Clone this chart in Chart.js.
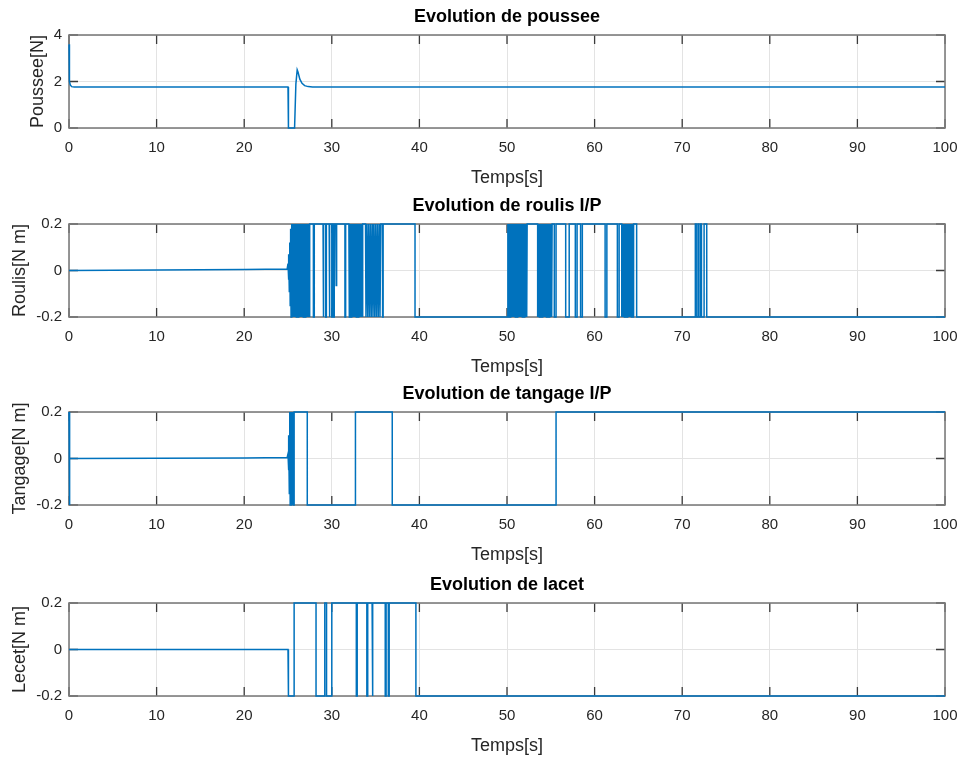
<!DOCTYPE html>
<html>
<head>
<meta charset="utf-8">
<title>Evolution des commandes</title>
<script src="https://cdn.jsdelivr.net/npm/chart.js@4.4.1/dist/chart.umd.min.js"></script>
<style>
    body { margin: 0; background: #ffffff; }
    #wrap { position: relative; width: 961px; height: 760px; }
    canvas { position: absolute; left: 0; }
</style>
</head>
<body>
<div id="wrap">
    <canvas id="pousseeChart" width="961" height="190" style="top:0px"></canvas>
    <canvas id="roulisChart" width="961" height="190" style="top:189px"></canvas>
    <canvas id="tangageChart" width="961" height="190" style="top:377px"></canvas>
    <canvas id="lacetChart" width="961" height="190" style="top:568px"></canvas>
</div>
<script>
// Tick values shared by the subplots
const timeTicks = [0, 10, 20, 30, 40, 50, 60, 70, 80, 90, 100];
const pousseeTicks = [0, 2, 4];
const momentTicks = [-0.2, 0, 0.2];

// Poussee [N]
const pousseeT = [0, 0.05, 0.15, 0.3, 0.6, 25.0, 25.05, 25.75, 25.9, 26.05, 26.15, 26.35, 26.6, 26.9, 27.3, 27.8, 100];
const pousseeY = [3.6, 2.0, 1.85, 1.78, 1.76, 1.76, 0, 0, 1.9, 2.5, 2.4, 2.1, 1.92, 1.82, 1.78, 1.76, 1.76];

// Roulis I/P [N m] (saturated at +/-0.2 once the chattering starts)
const roulisT = [
    0, 5, 10, 15, 20, 24.9,
    25.0, 25.05, 25.1, 25.15, 25.2, 25.25, 25.3, 25.35,
    25.4, 25.45, 25.5, 25.55, 25.6, 25.65, 25.7, 25.75, 25.8, 25.85,
    25.9, 25.95, 26.0, 26.05, 26.1, 26.15, 26.2, 26.25, 26.3, 26.35,
    26.4, 26.45, 26.5, 26.55, 26.6, 26.65, 26.7, 26.75, 26.8, 26.85,
    26.9, 26.95, 27.0, 27.05, 27.1, 27.15, 27.2, 27.25, 27.3, 27.35,
    27.4, 27.45, 27.5,
    27.9, 27.9, 28.0, 28.0,
    29.0, 29.0, 29.08, 29.08, 29.3, 29.3, 29.38, 29.38,
    29.7, 29.7, 29.78, 29.78, 30.0, 30.0, 30.08, 30.08, 30.2, 30.2, 30.28, 30.28,
    30.45, 30.5, 30.55,
    31.5, 31.5, 31.58, 31.58,
    31.95,
    32.0, 32.05, 32.1, 32.15, 32.2, 32.25, 32.3, 32.35, 32.4, 32.45,
    32.5, 32.55, 32.6, 32.65, 32.7, 32.75, 32.8, 32.85, 32.9, 32.95,
    33.0, 33.05, 33.1, 33.15, 33.2, 33.25, 33.3, 33.35, 33.4, 33.45,
    33.5, 33.55,
    33.85, 33.9, 34.0, 34.1, 34.2, 34.3, 34.4, 34.5, 34.6, 34.7, 34.8, 34.9, 35.0, 35.1, 35.2, 35.3, 35.4, 35.5, 35.6,
    35.8, 35.8, 35.86, 35.86,
    39.5, 39.5,
    50.1, 50.1,
    50.15, 50.2, 50.25, 50.3, 50.35, 50.4, 50.45, 50.5, 50.55, 50.6,
    50.65, 50.7, 50.75, 50.8, 50.85, 50.9, 50.95, 51.0, 51.05, 51.1,
    51.15, 51.2, 51.25, 51.3, 51.35, 51.4, 51.45, 51.5, 51.55, 51.6,
    51.65, 51.7, 51.75, 51.8, 51.85, 51.9, 51.95, 52.0, 52.05, 52.1,
    52.15, 52.2, 52.25, 52.3,
    53.5, 53.5,
    53.55, 53.6, 53.65, 53.7, 53.75, 53.8, 53.85, 53.9, 53.95, 54.0,
    54.05, 54.1, 54.15, 54.2, 54.25, 54.3, 54.35, 54.4, 54.45, 54.5,
    54.55, 54.6, 54.65, 54.7, 54.75, 54.8, 54.85, 54.9, 54.95, 55.0,
    55.05, 55.1, 55.15,
    55.4, 55.4, 55.6, 55.6,
    56.7, 56.7, 57.1, 57.1,
    57.8, 57.8, 58.0, 58.0, 58.4, 58.4, 58.6, 58.6,
    61.2, 61.2, 61.4, 61.4,
    62.6, 62.6, 62.8, 62.8,
    63.1, 63.1,
    63.15, 63.2, 63.25, 63.3, 63.35, 63.4, 63.45, 63.5, 63.55, 63.6,
    63.65, 63.7, 63.75, 63.8, 63.85, 63.9, 63.95, 64.0, 64.05, 64.1,
    64.15, 64.2, 64.25, 64.3, 64.35, 64.4, 64.45,
    64.8, 64.8,
    71.5, 71.5, 71.6, 71.6, 71.8, 71.8, 71.9, 71.9, 72.1, 72.1, 72.2, 72.2, 72.5, 72.5, 72.8, 72.8,
    100
];
const roulisY = [
    0, 0.001, 0.002, 0.003, 0.004, 0.006,
    0.03, -0.04, 0.07, -0.09, 0.12, -0.15, 0.18, -0.2,
    0.2, -0.2, 0.2, -0.2, 0.2, -0.2, 0.2, -0.2, 0.2, -0.2,
    0.2, -0.2, 0.2, -0.2, 0.2, -0.2, 0.2, -0.2, 0.2, -0.2,
    0.2, -0.2, 0.2, -0.2, 0.2, -0.2, 0.2, -0.2, 0.2, -0.2,
    0.2, -0.2, 0.2, -0.2, 0.2, -0.2, 0.2, -0.2, 0.2, -0.2,
    0.2, -0.2, 0.2,
    0.2, -0.2, -0.2, 0.2,
    0.2, -0.2, -0.2, 0.2, 0.2, -0.2, -0.2, 0.2,
    0.2, -0.2, -0.2, 0.2, 0.2, -0.2, -0.2, 0.2, 0.2, -0.2, -0.2, 0.2,
    0.2, -0.065, 0.2,
    0.2, -0.2, -0.2, 0.2,
    0.2,
    -0.2, 0.2, -0.2, 0.2, -0.2, 0.2, -0.2, 0.2, -0.2, 0.2,
    -0.2, 0.2, -0.2, 0.2, -0.2, 0.2, -0.2, 0.2, -0.2, 0.2,
    -0.2, 0.2, -0.2, 0.2, -0.2, 0.2, -0.2, 0.2, -0.2, 0.2,
    -0.2, 0.2,
    0.2, -0.2, 0.2, -0.2, 0.2, -0.2, 0.2, -0.2, 0.2, -0.2, 0.2, -0.2, 0.2, -0.2, 0.2, -0.2, 0.2, -0.2, 0.2,
    0.2, -0.2, -0.2, 0.2,
    0.2, -0.2,
    -0.2, 0.2,
    -0.2, 0.2, -0.2, 0.2, -0.2, 0.2, -0.2, 0.2, -0.2, 0.2,
    -0.2, 0.2, -0.2, 0.2, -0.2, 0.2, -0.2, 0.2, -0.2, 0.2,
    -0.2, 0.2, -0.2, 0.2, -0.2, 0.2, -0.2, 0.2, -0.2, 0.2,
    -0.2, 0.2, -0.2, 0.2, -0.2, 0.2, -0.2, 0.2, -0.2, 0.2,
    -0.2, 0.2, -0.2, 0.2,
    0.2, -0.2,
    0.2, -0.2, 0.2, -0.2, 0.2, -0.2, 0.2, -0.2, 0.2, -0.2,
    0.2, -0.2, 0.2, -0.2, 0.2, -0.2, 0.2, -0.2, 0.2, -0.2,
    0.2, -0.2, 0.2, -0.2, 0.2, -0.2, 0.2, -0.2, 0.2, -0.2,
    0.2, -0.2, 0.2,
    0.2, -0.2, -0.2, 0.2,
    0.2, -0.2, -0.2, 0.2,
    0.2, -0.2, -0.2, 0.2, 0.2, -0.2, -0.2, 0.2,
    0.2, -0.2, -0.2, 0.2,
    0.2, -0.2, -0.2, 0.2,
    0.2, -0.2,
    0.2, -0.2, 0.2, -0.2, 0.2, -0.2, 0.2, -0.2, 0.2, -0.2,
    0.2, -0.2, 0.2, -0.2, 0.2, -0.2, 0.2, -0.2, 0.2, -0.2,
    0.2, -0.2, 0.2, -0.2, 0.2, -0.2, 0.2,
    0.2, -0.2,
    -0.2, 0.2, 0.2, -0.2, -0.2, 0.2, 0.2, -0.2, -0.2, 0.2, 0.2, -0.2, -0.2, 0.2, 0.2, -0.2,
    -0.2
];

// Tangage I/P [N m]
const tangageT = [
    0, 0.04, 0.1, 10, 20, 24.9,
    25.0, 25.05, 25.1, 25.15, 25.2, 25.25, 25.3, 25.35, 25.4, 25.45, 25.5, 25.55, 25.6, 25.65,
    25.7, 25.7, 27.2, 27.2, 32.7, 32.7, 36.9, 36.9, 55.6, 55.6, 100
];
const tangageY = [
    0.2, -0.2, 0, 0.001, 0.002, 0.004,
    0.02, -0.05, 0.1, -0.15, 0.2, -0.2, 0.2, -0.2, 0.2, -0.2, 0.2, -0.2, 0.1, -0.2,
    -0.2, 0.2, 0.2, -0.2, -0.2, 0.2, 0.2, -0.2, -0.2, 0.2, 0.2
];

// Lacet [N m]
const lacetT = [
    0, 25.0, 25.05, 25.7, 25.7, 28.2, 28.2, 29.2, 29.2, 29.4, 29.4, 30.0, 30.0,
    32.8, 32.8, 32.9, 32.9, 34.0, 34.0, 34.1, 34.1, 34.6, 34.6, 34.7, 34.7,
    36.1, 36.1, 36.2, 36.2, 36.45, 36.45, 36.55, 36.55, 39.6, 39.6, 100
];
const lacetY = [
    0, 0, -0.2, -0.2, 0.2, 0.2, -0.2, -0.2, 0.2, 0.2, -0.2, -0.2, 0.2,
    0.2, -0.2, -0.2, 0.2, 0.2, -0.2, -0.2, 0.2, 0.2, -0.2, -0.2, 0.2,
    0.2, -0.2, -0.2, 0.2, 0.2, -0.2, -0.2, 0.2, 0.2, -0.2, -0.2
];

const fontFamily = '"Liberation Sans", Arial, Helvetica, sans-serif';
const textColor = '#262626';
const gridColor = '#e3e3e3';
const lineColor = '#0072bd';

// Box around the axes, inward ticks on all four sides and the bold title above
function axesDecor(title) {
    return {
        id: 'axesDecor',
        beforeDatasetsDraw(chart) {
            const ctx = chart.ctx;
            const { left, right, top, bottom } = chart.chartArea;
            const xs = chart.scales.x;
            const ys = chart.scales.y;
            const len = 9;
            ctx.save();
            ctx.strokeStyle = '#3a3a3a';
            ctx.lineWidth = 1.3;
            ctx.beginPath();
            xs.ticks.forEach(t => {
                const px = xs.getPixelForValue(t.value);
                ctx.moveTo(px, bottom); ctx.lineTo(px, bottom - len);
                ctx.moveTo(px, top); ctx.lineTo(px, top + len);
            });
            ys.ticks.forEach(t => {
                const py = ys.getPixelForValue(t.value);
                ctx.moveTo(left, py); ctx.lineTo(left + len, py);
                ctx.moveTo(right, py); ctx.lineTo(right - len, py);
            });
            ctx.stroke();
            ctx.strokeStyle = '#7d7d7d';
            ctx.lineWidth = 1.6;
            ctx.strokeRect(left, top, right - left, bottom - top);
            ctx.restore();
        },
        afterDraw(chart) {
            const ctx = chart.ctx;
            const { left, right, top } = chart.chartArea;
            ctx.save();
            ctx.fillStyle = '#000000';
            ctx.font = 'bold 18px ' + fontFamily;
            ctx.textAlign = 'center';
            ctx.textBaseline = 'middle';
            ctx.fillText(title, (left + right) / 2, top - 18);
            ctx.restore();
        }
    };
}

function makeChart(id, title, yLabel, yMin, yMax, yTicks, yTitlePad, ts, ys) {
    if (ts.length !== ys.length) {
        throw new Error(id + ': ' + ts.length + ' times vs ' + ys.length + ' values');
    }
    const ctx = document.getElementById(id).getContext('2d');
    return new Chart(ctx, {
        type: 'line',
        data: {
            datasets: [{
                data: ts.map((t, i) => ({ x: t, y: ys[i] })),
                borderColor: lineColor,
                borderWidth: 1.5,
                pointRadius: 0,
                tension: 0,
                clip: false
            }]
        },
        options: {
            responsive: false,
            animation: false,
            layout: { padding: { top: 35, right: 16, left: 0, bottom: 0 } },
            plugins: {
                legend: { display: false },
                tooltip: { enabled: false },
                title: { display: false }
            },
            scales: {
                x: {
                    type: 'linear',
                    min: 0,
                    max: 100,
                    afterBuildTicks: s => { s.ticks = timeTicks.map(v => ({ value: v })); },
                    afterFit: s => {
                        // fixed axis height, and no extra room for the end labels
                        s.height = 62;
                        s.paddingLeft = 0;
                        s.paddingRight = 0;
                    },
                    grid: { color: gridColor, drawTicks: false },
                    border: { display: false },
                    ticks: {
                        padding: 11,
                        color: textColor,
                        maxRotation: 0,
                        autoSkip: false,
                        font: { family: fontFamily, size: 15 }
                    },
                    title: {
                        display: true,
                        text: 'Temps[s]',
                        color: textColor,
                        font: { family: fontFamily, size: 18 },
                        padding: { top: 0, bottom: 1 }
                    }
                },
                y: {
                    type: 'linear',
                    min: yMin,
                    max: yMax,
                    afterBuildTicks: s => { s.ticks = yTicks.map(v => ({ value: v })); },
                    afterFit: s => { s.width = 69; },
                    grid: { color: gridColor, drawTicks: false },
                    border: { display: false },
                    ticks: {
                        padding: 7,
                        color: textColor,
                        font: { family: fontFamily, size: 15 },
                        callback: v => String(v)
                    },
                    title: {
                        display: true,
                        text: yLabel,
                        color: textColor,
                        font: { family: fontFamily, size: 18 },
                        padding: { top: yTitlePad, bottom: 0 }
                    }
                }
            }
        },
        plugins: [axesDecor(title)]
    });
}

makeChart('pousseeChart', 'Evolution de poussee', 'Poussee[N]', 0, 4, pousseeTicks, 27, pousseeT, pousseeY);
makeChart('roulisChart', 'Evolution de roulis I/P', 'Roulis[N m]', -0.2, 0.2, momentTicks, 9, roulisT, roulisY);
makeChart('tangageChart', 'Evolution de tangage I/P', 'Tangage[N m]', -0.2, 0.2, momentTicks, 9, tangageT, tangageY);
makeChart('lacetChart', 'Evolution de lacet', 'Lecet[N m]', -0.2, 0.2, momentTicks, 9, lacetT, lacetY);
</script>
</body>
</html>
